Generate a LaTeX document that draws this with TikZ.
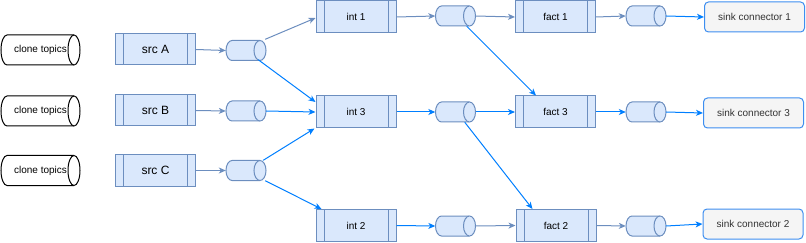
\documentclass[tikz,border=0pt]{standalone}
\usepackage{fontspec}
\setmainfont{Liberation Sans}
\usetikzlibrary{arrows.meta,calc}
\definecolor{pfill}{HTML}{DAE8FC}
\definecolor{pdraw}{HTML}{6C8EBF}
\definecolor{bright}{HTML}{007FFF}
\definecolor{sfill}{HTML}{F5F5F5}
\definecolor{sdraw}{HTML}{3D8EF0}
\definecolor{stext}{HTML}{333333}
% name, x, y, w, h, rx, style, text
\newcommand\mycyl[8]{%
  \path[#7] ({#2+#4/2-#6},{#3-#5/2}) arc[start angle=-90,end angle=90,x radius=#6,y radius=#5/2]
    -- ({#2-#4/2+#6},{#3+#5/2}) arc[start angle=90,end angle=270,x radius=#6,y radius=#5/2] -- cycle;
  \path[#7] ({#2+#4/2-#6},{#3-#5/2}) arc[start angle=270,end angle=90,x radius=#6,y radius=#5/2];
  \node[inner sep=0pt, minimum width=#4pt, minimum height=#5pt, font=\fontsize{10}{12}\selectfont] (#1) at (#2,#3) {#8};
}
\tikzset{
  proc/.style={draw=pdraw, fill=pfill, minimum width=80pt, minimum height=32pt, inner sep=0pt,
    line width=1pt, font=\fontsize{10}{12}\selectfont,
    path picture={\draw[pdraw, line width=1pt]
      ([xshift=8pt]path picture bounding box.north west) -- ([xshift=8pt]path picture bounding box.south west)
      ([xshift=-8pt]path picture bounding box.north east) -- ([xshift=-8pt]path picture bounding box.south east);}},
  srcbox/.style={proc, font=\fontsize{12}{14}\selectfont, minimum height=31pt},
  sink/.style={draw=sdraw, fill=sfill, rounded corners=4pt, minimum width=100pt, minimum height=30pt,
    inner sep=0pt, line width=1pt, text=stext, font=\fontsize{10}{12}\selectfont},
  clonecyl/.style={draw=black, fill=white, line width=1pt},
  smallcyl/.style={draw=pdraw, fill=pfill, line width=1pt},
  arr/.style={-{Stealth[length=7pt,width=6pt,inset=2pt]}, line width=1pt, draw=pdraw},
  barr/.style={arr, draw=bright},
}
\begin{document}
\begin{tikzpicture}[x=1pt,y=-1pt]
\useasboundingbox (0,0) rectangle (806,243);
% clone topics
\mycyl{cl1}{40.5}{50}{79}{30}{6}{clonecyl}{clone topics}
\mycyl{cl2}{40.5}{111}{79}{30}{6}{clonecyl}{clone topics}
\mycyl{cl3}{40.5}{170.5}{79}{30}{6}{clonecyl}{clone topics}
% sources
\node[srcbox] (srcA) at (155.5,49.5) {src A};
\node[srcbox] (srcB) at (155.5,110.5) {src B};
\node[srcbox] (srcC) at (155.5,170.5) {src C};
% source topics
\mycyl{ca}{246}{50.5}{40}{20}{6}{smallcyl}{}
\mycyl{cb}{246}{111}{40}{20}{6}{smallcyl}{}
\mycyl{cc}{246}{170.5}{40}{20}{6}{smallcyl}{}
% int
\node[proc] (int1) at (356,17) {int 1};
\node[proc] (int3) at (356,112) {int 3};
\node[proc] (int2) at (356,225.5) {int 2};
\mycyl{ci1}{455.5}{16}{40}{20}{6}{smallcyl}{}
\mycyl{ci3}{455.5}{112}{40}{20}{6}{smallcyl}{}
\mycyl{ci2}{455.5}{226}{40}{20}{6}{smallcyl}{}
% fact
\node[proc] (fact1) at (555.5,17) {fact 1};
\node[proc] (fact3) at (555.5,112) {fact 3};
\node[proc] (fact2) at (556,225.5) {fact 2};
\mycyl{cf1}{646}{16}{40}{20}{6}{smallcyl}{}
\mycyl{cf3}{646}{112}{40}{20}{6}{smallcyl}{}
\mycyl{cf2}{646}{226}{40}{20}{6}{smallcyl}{}
% sinks
\node[sink] (sink1) at (754.5,17) {sink connector 1};
\node[sink] (sink3) at (753.5,113) {sink connector 3};
\node[sink] (sink2) at (753,224) {sink connector 2};
% arrows
\draw[arr] (srcA.east) -- (ca.west);
\draw[arr] (srcB.east) -- (cb.west);
\draw[arr] (srcC.east) -- (cc.west);
\draw[arr] ($(ca.north east)+(-1,-1)$) -- ($(int1.west)+(0,1)$);
\draw[barr] ($(ca.south east)+(-8,-1)$) -- ($(int3.west)+(0,-10)$);
\draw[barr] (cb.east) -- (int3.west);
\draw[barr] ($(cc.north east)+(-3,0)$) -- ($(int3.south west)+(-1,0)$);
\draw[barr] ($(cc.south east)+(-1,0)$) -- ($(int2.north west)+(6,0)$);
\draw[arr] (int1.east) -- (ci1.west);
\draw[barr] (int3.east) -- (ci3.west);
\draw[barr] (int2.east) -- (ci2.west);
\draw[arr] (ci1.east) -- (fact1.west);
\draw[barr] ($(ci1.south east)+(-9,0)$) -- ($(fact3.north west)+(21,0)$);
\draw[barr] (ci3.east) -- (fact3.west);
\draw[barr] ($(ci3.south east)+(-11,0)$) -- ($(fact2.north west)+(17,0)$);
\draw[arr] (ci2.east) -- (fact2.west);
\draw[arr] (fact1.east) -- (cf1.west);
\draw[barr] (fact3.east) -- (cf3.west);
\draw[arr] (fact2.east) -- (cf2.west);
\draw[barr] (cf1.east) -- (sink1.west);
\draw[barr] (cf3.east) -- (sink3.west);
\draw[barr] (cf2.east) -- (sink2.west);
\end{tikzpicture}
\end{document}
